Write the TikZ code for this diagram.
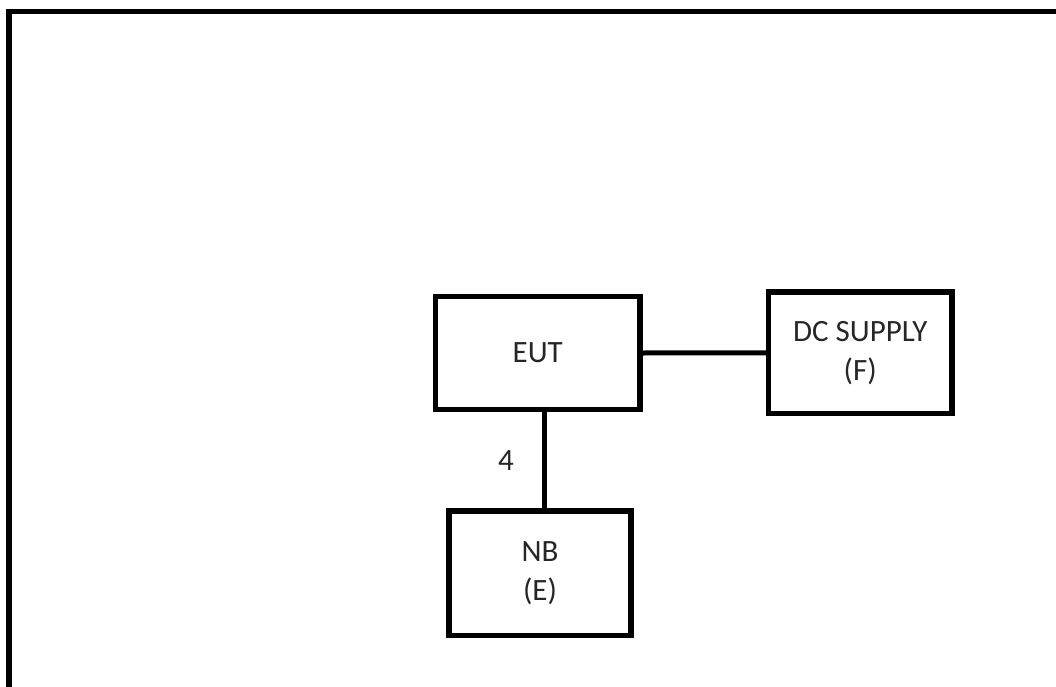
\documentclass[tikz,border=0pt]{standalone}
\usepackage{fontspec}
\setmainfont{Carlito}
\begin{document}
\begin{tikzpicture}[x=1pt,y=-1pt,
  blk/.style={draw=black,line width=5.5pt,minimum width=#1,inner sep=0pt,align=center,
    font=\fontsize{31}{39}\selectfont,text=black!85},
  wire/.style={draw=black,line width=5pt},
  lbl/.style={font=\fontsize{31}{39}\selectfont,text=black!85,inner sep=0pt}]
\useasboundingbox (0,0) rectangle (1056,687);
\draw[line width=5.5pt,line cap=rect] (1060,11.7) -- (9,11.7) -- (9,700);
\node[blk=204.5pt,minimum height=113pt] (eut) at (537.75,353) {EUT};
\node[blk=183.5pt,minimum height=121.5pt] (dc) at (860.25,352.75) {DC SUPPLY\\(F)};
\node[blk=182pt,minimum height=124.5pt] (nb) at (540,573.25) {NB\\(E)};
\draw[wire] (eut.east) -- (dc.west);
\draw[wire] ([xshift=6.75pt]eut.south) -- ([xshift=6.75pt]eut.south |- nb.north);
\node[lbl] (four) at (506,461) {4};
\end{tikzpicture}
\end{document}
